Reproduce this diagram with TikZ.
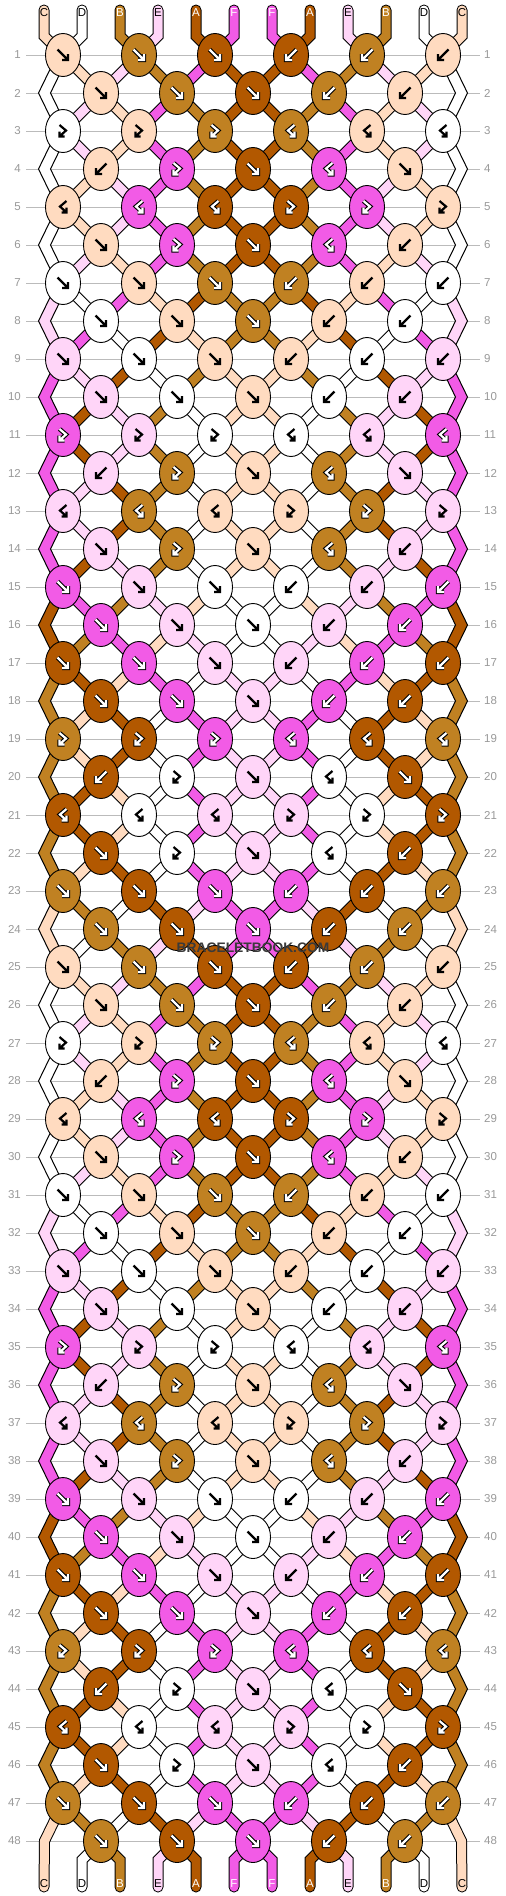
\documentclass[tikz,border=0pt]{standalone}
\usepackage{fontspec}
\setmainfont{Liberation Sans}
\usetikzlibrary{shapes.geometric}
\pgfdeclarelayer{grid}
\pgfdeclarelayer{sout}
\pgfdeclarelayer{sfill}
\pgfsetlayers{grid,sout,sfill,main}

\definecolor{cA}{HTML}{B25800}
\definecolor{cB}{HTML}{C08122}
\definecolor{cC}{HTML}{FFDBC0}
\definecolor{cD}{HTML}{FFFFFF}
\definecolor{cE}{HTML}{FFD5F8}
\definecolor{cF}{HTML}{F25BE6}
\colorlet{gA}{white}\colorlet{gB}{white}\colorlet{gF}{white}
\colorlet{gC}{black}\colorlet{gD}{black}\colorlet{gE}{black}
\colorlet{oA}{black}\colorlet{oB}{black}\colorlet{oF}{black}
\colorlet{oC}{cC}\colorlet{oD}{cD}\colorlet{oE}{cE}
\definecolor{rowgray}{HTML}{BBBBBB}
\definecolor{numgray}{HTML}{999999}
\definecolor{wmgray}{HTML}{3A3A3A}

% knots of rows 1-24 (colour/type), repeated for rows 25-48
\expandafter\def\csname kr1\endcsname{C/F,B/F,A/F,A/B,B/B,C/B}
\expandafter\def\csname kr2\endcsname{C/F,B/F,A/F,B/B,C/B}
\expandafter\def\csname kr3\endcsname{D/FB,C/FB,B/FB,B/BF,C/BF,D/BF}
\expandafter\def\csname kr4\endcsname{C/B,F/FB,A/F,F/BF,C/F}
\expandafter\def\csname kr5\endcsname{C/BF,F/BF,A/BF,A/FB,F/FB,C/FB}
\expandafter\def\csname kr6\endcsname{C/F,F/FB,A/F,F/BF,C/B}
\expandafter\def\csname kr7\endcsname{D/F,C/F,B/F,B/B,C/B,D/B}
\expandafter\def\csname kr8\endcsname{D/F,C/F,B/F,C/B,D/B}
\expandafter\def\csname kr9\endcsname{E/F,D/F,C/F,C/B,D/B,E/B}
\expandafter\def\csname kr10\endcsname{E/F,D/F,C/F,D/B,E/B}
\expandafter\def\csname kr11\endcsname{F/FB,E/FB,D/FB,D/BF,E/BF,F/BF}
\expandafter\def\csname kr12\endcsname{E/B,B/FB,C/F,B/BF,E/F}
\expandafter\def\csname kr13\endcsname{E/BF,B/BF,C/BF,C/FB,B/FB,E/FB}
\expandafter\def\csname kr14\endcsname{E/F,B/FB,C/F,B/BF,E/B}
\expandafter\def\csname kr15\endcsname{F/F,E/F,D/F,D/B,E/B,F/B}
\expandafter\def\csname kr16\endcsname{F/F,E/F,D/F,E/B,F/B}
\expandafter\def\csname kr17\endcsname{A/F,F/F,E/F,E/B,F/B,A/B}
\expandafter\def\csname kr18\endcsname{A/F,F/F,E/F,F/B,A/B}
\expandafter\def\csname kr19\endcsname{B/FB,A/FB,F/FB,F/BF,A/BF,B/BF}
\expandafter\def\csname kr20\endcsname{A/B,D/FB,E/F,D/BF,A/F}
\expandafter\def\csname kr21\endcsname{A/BF,D/BF,E/BF,E/FB,D/FB,A/FB}
\expandafter\def\csname kr22\endcsname{A/F,D/FB,E/F,D/BF,A/B}
\expandafter\def\csname kr23\endcsname{B/F,A/F,F/F,F/B,A/B,B/B}
\expandafter\def\csname kr24\endcsname{B/F,A/F,F/F,A/B,B/B}

% string order after each row
\expandafter\def\csname st1\endcsname{D,C,E,B,F,A,A,F,B,E,C,D}
\expandafter\def\csname st2\endcsname{D,E,C,F,B,A,A,B,F,C,E,D}
\expandafter\def\csname st3\endcsname{D,E,C,F,B,A,A,B,F,C,E,D}
\expandafter\def\csname st4\endcsname{D,C,E,F,B,A,A,B,F,E,C,D}
\expandafter\def\csname st5\endcsname{D,C,E,F,B,A,A,B,F,E,C,D}
\expandafter\def\csname st6\endcsname{D,E,C,F,B,A,A,B,F,C,E,D}
\expandafter\def\csname st7\endcsname{E,D,F,C,A,B,B,A,C,F,D,E}
\expandafter\def\csname st8\endcsname{E,F,D,A,C,B,B,C,A,D,F,E}
\expandafter\def\csname st9\endcsname{F,E,A,D,B,C,C,B,D,A,E,F}
\expandafter\def\csname st10\endcsname{F,A,E,B,D,C,C,D,B,E,A,F}
\expandafter\def\csname st11\endcsname{F,A,E,B,D,C,C,D,B,E,A,F}
\expandafter\def\csname st12\endcsname{F,E,A,B,D,C,C,D,B,A,E,F}
\expandafter\def\csname st13\endcsname{F,E,A,B,D,C,C,D,B,A,E,F}
\expandafter\def\csname st14\endcsname{F,A,E,B,D,C,C,D,B,E,A,F}
\expandafter\def\csname st15\endcsname{A,F,B,E,C,D,D,C,E,B,F,A}
\expandafter\def\csname st16\endcsname{A,B,F,C,E,D,D,E,C,F,B,A}
\expandafter\def\csname st17\endcsname{B,A,C,F,D,E,E,D,F,C,A,B}
\expandafter\def\csname st18\endcsname{B,C,A,D,F,E,E,F,D,A,C,B}
\expandafter\def\csname st19\endcsname{B,C,A,D,F,E,E,F,D,A,C,B}
\expandafter\def\csname st20\endcsname{B,A,C,D,F,E,E,F,D,C,A,B}
\expandafter\def\csname st21\endcsname{B,A,C,D,F,E,E,F,D,C,A,B}
\expandafter\def\csname st22\endcsname{B,C,A,D,F,E,E,F,D,A,C,B}
\expandafter\def\csname st23\endcsname{C,B,D,A,E,F,F,E,A,D,B,C}
\expandafter\def\csname st24\endcsname{C,D,B,E,A,F,F,A,E,B,D,C}

\def\segmode{0}
\newcommand\seg[2]{%
  \ifnum\segmode=0 \draw[segout] #1;\else\draw[segin,draw=c#2] #1;\fi}
\newcommand\segr[2]{%
  \ifnum\segmode=0 \draw[segout,line cap=round] #1;\else\draw[segin,line cap=round,draw=c#2] #1;\fi}
\newcommand\edgeL[4]{%
  \ifnum\segmode=1
  \filldraw[fill=c#4,draw=black,line width=1pt]
    ([xshift=-6pt]k-#1-0.center) -- ([xshift=-6pt]eL-#2) -- ([xshift=-6pt]k-#3-0.center)
    -- ([xshift=6pt]k-#3-0.center) -- ([xshift=6pt]eL-#2) -- ([xshift=6pt]k-#1-0.center) -- cycle;
  \fi}
\newcommand\edgeR[4]{%
  \ifnum\segmode=1
  \filldraw[fill=c#4,draw=black,line width=1pt]
    ([xshift=6pt]k-#1-5.center) -- ([xshift=6pt]eR-#2) -- ([xshift=6pt]k-#3-5.center)
    -- ([xshift=-6pt]k-#3-5.center) -- ([xshift=-6pt]eR-#2) -- ([xshift=-6pt]k-#1-5.center) -- cycle;
  \fi}

\newcommand\allstrings{%
  \foreach \R in {1,...,47}{
    \pgfmathtruncatemacro\rr{mod(\R-1,24)+1}
    \pgfmathtruncatemacro\odd{mod(\R,2)}
    \pgfmathtruncatemacro\Rn{\R+1}
    \pgfmathtruncatemacro\Rnn{\R+2}
    \expandafter\let\expandafter\stl\csname st\rr\endcsname
    \foreach \scol [count=\pp from 0] in \stl {
      \ifnum\odd=1
        \ifnum\pp=0
          \ifnum\R<47 \edgeL{\R}{\Rn}{\Rnn}{\scol}\fi
        \else\ifnum\pp=11
          \ifnum\R<47 \edgeR{\R}{\Rn}{\Rnn}{\scol}\fi
        \else
          \pgfmathtruncatemacro\ka{floor(\pp/2)}
          \pgfmathtruncatemacro\kb{floor((\pp-1)/2)}
          \seg{(k-\R-\ka.center) -- (k-\Rn-\kb.center)}{\scol}
        \fi\fi
      \else
        \ifnum\pp=0 \else\ifnum\pp=11 \else
          \pgfmathtruncatemacro\ka{floor((\pp-1)/2)}
          \pgfmathtruncatemacro\kb{floor(\pp/2)}
          \seg{(k-\R-\ka.center) -- (k-\Rn-\kb.center)}{\scol}
        \fi\fi
      \fi
    }
  }
  \foreach \scol [count=\pp from 0] in {C,D,B,E,A,F,F,A,E,B,D,C}{
    \pgfmathtruncatemacro\ka{floor(\pp/2)}
    \segr{(ts-\pp) -- (tb-\pp) -- (k-1-\ka.center)}{\scol}
    \ifnum\pp=0
      \segr{(k-47-0.center) -- (eL-48) -- (be-\pp)}{\scol}
    \else\ifnum\pp=11
      \segr{(k-47-5.center) -- (eR-48) -- (be-\pp)}{\scol}
    \else
      \pgfmathtruncatemacro\kb{floor((\pp-1)/2)}
      \segr{(k-48-\kb.center) -- (bb-\pp) -- (be-\pp)}{\scol}
    \fi\fi
  }
}

\begin{document}
\begin{tikzpicture}[x=1pt,y=-1pt,
  knot/.style={ellipse,draw=black,line width=0.9pt,minimum width=35pt,minimum height=43pt,inner sep=0pt},
  segout/.style={line width=11pt,draw=black},
  segin/.style={line width=9pt},
  lab/.style={font=\fontsize{11.5}{12}\selectfont,inner sep=0pt},
  num/.style={font=\fontsize{11.5}{12}\selectfont,text=numgray,inner sep=0pt},
  rowline/.style={draw=rowgray,line width=1pt},
  wm/.style={font=\bfseries\fontsize{13.8}{14}\selectfont,text=wmgray,inner sep=0pt},
  pics/gly-F/.style={code={
    \draw[line width=4.4pt,draw=o#1] (-5.5,-5.5) -- (5,5) (5,-1) -- (5,5) -- (-1,5);
    \draw[line width=2.2pt,draw=g#1] (-5.5,-5.5) -- (5,5) (5,-1) -- (5,5) -- (-1,5);}},
  pics/gly-B/.style={code={
    \draw[line width=4.4pt,draw=o#1] (5.5,-5.5) -- (-5,5) (-5,-1) -- (-5,5) -- (1,5);
    \draw[line width=2.2pt,draw=g#1] (5.5,-5.5) -- (-5,5) (-5,-1) -- (-5,5) -- (1,5);}},
  pics/gly-FB/.style={code={
    \draw[line width=4.4pt,draw=o#1] (-3.5,-6) -- (3,-0.5) -- (-3.5,5.5) (-3.5,0.5) -- (-3.5,5.5) -- (1.5,5.5);
    \draw[line width=2.2pt,draw=g#1] (-3.5,-6) -- (3,-0.5) -- (-3.5,5.5) (-3.5,0.5) -- (-3.5,5.5) -- (1.5,5.5);}},
  pics/gly-BF/.style={code={
    \draw[line width=4.4pt,draw=o#1] (3.5,-6) -- (-3,-0.5) -- (3.5,5.5) (3.5,0.5) -- (3.5,5.5) -- (-1.5,5.5);
    \draw[line width=2.2pt,draw=g#1] (3.5,-6) -- (-3,-0.5) -- (3.5,5.5) (3.5,0.5) -- (3.5,5.5) -- (-1.5,5.5);}}
]
\useasboundingbox (0,0) rectangle (506,1896);
\begin{pgfonlayer}{grid}
  \fill[white] (0,0) rectangle (506,1896);
  \foreach \R in {1,...,48}{
    \pgfmathsetmacro\yy{55+38*(\R-1)}
    \draw[rowline] (26,\yy) -- (480,\yy);
  }
\end{pgfonlayer}

% row numbers
\foreach \R in {1,...,48}{
  \pgfmathsetmacro\yy{55+38*(\R-1)}
  \node[num,anchor=east] (nl-\R) at (21,\yy) {\R};
  \node[num,anchor=west] (nr-\R) at (484,\yy) {\R};
}

% knots
\foreach \rep in {0,1}{
  \foreach \r in {1,...,24}{
    \pgfmathtruncatemacro\R{\r+24*\rep}
    \pgfmathsetmacro\yy{55+38*(\R-1)}
    \pgfmathtruncatemacro\odd{mod(\r,2)}
    \expandafter\let\expandafter\kl\csname kr\r\endcsname
    \foreach \col/\typ [count=\i from 0] in \kl {
      \pgfmathsetmacro\xx{\odd==1 ? 63+76*\i : 101+76*\i}
      \node[knot,fill=c\col] (k-\R-\i) at (\xx,\yy) {};
      \edef\tmp{\noexpand\pic at (\xx,\yy) {gly-\typ=\col};}\tmp
    }
    \ifnum\odd=0
      \coordinate (eL-\R) at (44.5,\yy);
      \coordinate (eR-\R) at (461.5,\yy);
    \fi
  }
}

% string end points and labels
\foreach \scol [count=\pp from 0] in {C,D,B,E,A,F,F,A,E,B,D,C}{
  \pgfmathsetmacro\xs{44+38*\pp}
  \coordinate (ts-\pp) at (\xs,10);
  \coordinate (tb-\pp) at (\xs,36);
  \coordinate (bb-\pp) at (\xs,1860);
  \coordinate (be-\pp) at (\xs,1887);
  \node[lab,text=g\scol] (lt-\pp) at (\xs,13) {\scol};
  \node[lab,text=g\scol] (lb-\pp) at (\xs,1884) {\scol};
}

\begin{pgfonlayer}{sout}
  \def\segmode{0}\allstrings
\end{pgfonlayer}
\begin{pgfonlayer}{sfill}
  \def\segmode{1}\allstrings
\end{pgfonlayer}

\node[wm] (wm) at (253,948) {BRACELETBOOK.COM};
\end{tikzpicture}
\end{document}
